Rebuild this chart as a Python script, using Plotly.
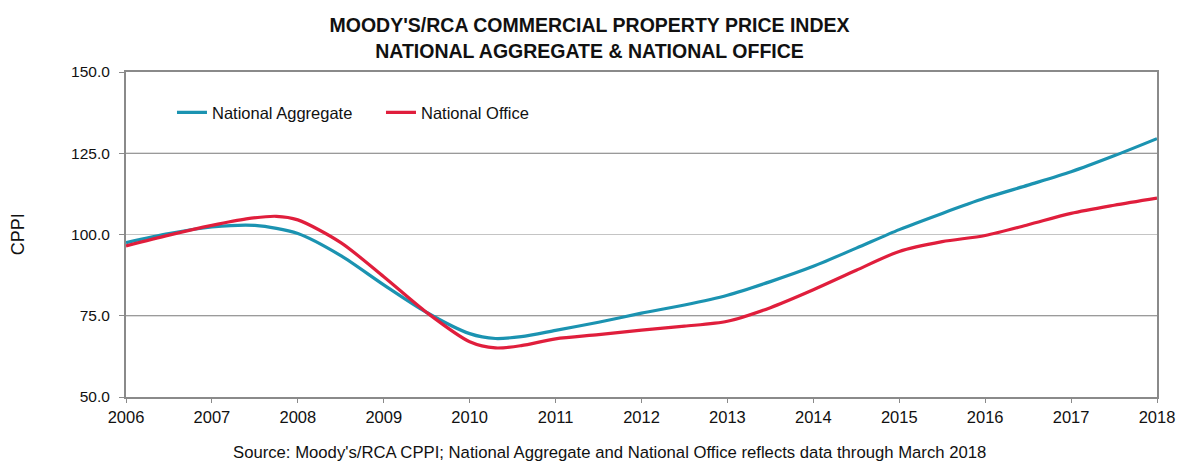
import plotly.graph_objects as go

years_agg = [2006.0, 2006.5, 2007.0, 2007.5, 2008.0, 2008.5, 2009.0, 2009.5, 2010.0, 2010.3, 2010.6,
             2011.0, 2011.5, 2012.0, 2012.5, 2013.0, 2013.5, 2014.0, 2014.5, 2015.0, 2015.5,
             2016.0, 2016.5, 2017.0, 2017.5, 2018.0]
national_aggregate = [97.5, 100.3, 102.3, 102.8, 100.3, 93.5, 84.5, 76.0, 69.5, 68.0, 68.6,
                      70.5, 73.0, 75.8, 78.3, 81.3, 85.5, 90.2, 95.8, 101.5, 106.5,
                      111.2, 115.2, 119.3, 124.2, 129.5]

years_off = [2006.0, 2006.5, 2007.0, 2007.4, 2007.75, 2008.0, 2008.5, 2009.0, 2009.5, 2010.0, 2010.3,
             2010.6, 2011.0, 2011.5, 2012.0, 2012.5, 2013.0, 2013.5, 2014.0, 2014.5, 2015.0,
             2015.5, 2016.0, 2016.5, 2017.0, 2017.5, 2018.0]
national_office = [96.5, 99.8, 102.8, 104.8, 105.6, 104.5, 97.5, 87.0, 76.0, 67.0, 65.1,
                   65.8, 67.9, 69.2, 70.6, 71.8, 73.3, 77.5, 83.0, 89.0, 94.8,
                   97.8, 99.7, 103.0, 106.5, 109.0, 111.2]

y_ticks = [50, 75, 100, 125, 150]
x_ticks = list(range(2006, 2019))
grid_colors = {75: "#7a7a7a", 100: "#c4c4c4", 125: "#7a7a7a"}

FONT = "Liberation Sans, Arial, sans-serif"

fig = go.Figure()
fig.add_trace(go.Scatter(x=years_agg, y=national_aggregate, mode="lines", name="National Aggregate",
                         line=dict(color="#1b93b1", width=3.2, shape="spline", smoothing=0.8)))
fig.add_trace(go.Scatter(x=years_off, y=national_office, mode="lines", name="National Office",
                         line=dict(color="#e01e3c", width=3.2, shape="spline", smoothing=0.8)))

for v, c in grid_colors.items():
    fig.add_shape(type="line", xref="paper", x0=0, x1=1, yref="y", y0=v, y1=v,
                  line=dict(color=c, width=1), layer="below")

fig.update_layout(
    width=1179, height=464, autosize=False,
    margin=dict(l=126, r=22, t=72, b=67, autoexpand=False),
    paper_bgcolor="white", plot_bgcolor="white",
    font=dict(family=FONT, size=15, color="#111111"),
    title=dict(text="MOODY'S/RCA COMMERCIAL PROPERTY PRICE INDEX<br>NATIONAL AGGREGATE &amp; NATIONAL OFFICE",
               x=0.5, xanchor="center", y=0.93, yanchor="top",
               font=dict(family=FONT, size=19.5, color="#111111", weight="bold")),
    showlegend=True,
    legend=dict(orientation="h", x=0.0446, y=0.875, xanchor="left", yanchor="middle",
                bgcolor="rgba(0,0,0,0)", font=dict(size=16.5, color="#111111"),
                itemwidth=30, entrywidth=164),
    xaxis=dict(range=[2006, 2018], tickvals=x_ticks, ticktext=[str(t) for t in x_ticks],
               showgrid=False, zeroline=False, showline=True, linecolor="#8a8a8a", linewidth=2,
               mirror=True, ticks="outside", ticklen=4, tickcolor="#8a8a8a", automargin=False,
               tickfont=dict(size=16.5, color="#111111")),
    yaxis=dict(range=[50, 150], tickvals=y_ticks, ticktext=[f"{t:.1f}" for t in y_ticks],
               showgrid=False, zeroline=False, showline=True, linecolor="#8a8a8a", linewidth=2,
               mirror=True, ticks="outside", ticklen=5, tickcolor="#8a8a8a", automargin=False,
               ticklabelstandoff=6,
               tickfont=dict(size=15.5, color="#111111")),
    annotations=[
        dict(text="Source: Moody's/RCA CPPI; National Aggregate and National Office reflects data through March 2018",
             xref="paper", yref="paper", x=0.4694, y=-0.172, xanchor="center", yanchor="middle",
             showarrow=False, font=dict(size=16.7, color="#111111")),
        dict(text="CPPI", textangle=-90, xref="paper", yref="paper", x=-0.105, y=0.5,
             xanchor="center", yanchor="middle", showarrow=False,
             font=dict(size=18, color="#111111")),
    ],
)

fig.write_html("out.html", config={"displayModeBar": False, "responsive": False},
               post_script="document.body.style.margin='0';document.body.style.padding='0';document.body.style.overflow='hidden';")
